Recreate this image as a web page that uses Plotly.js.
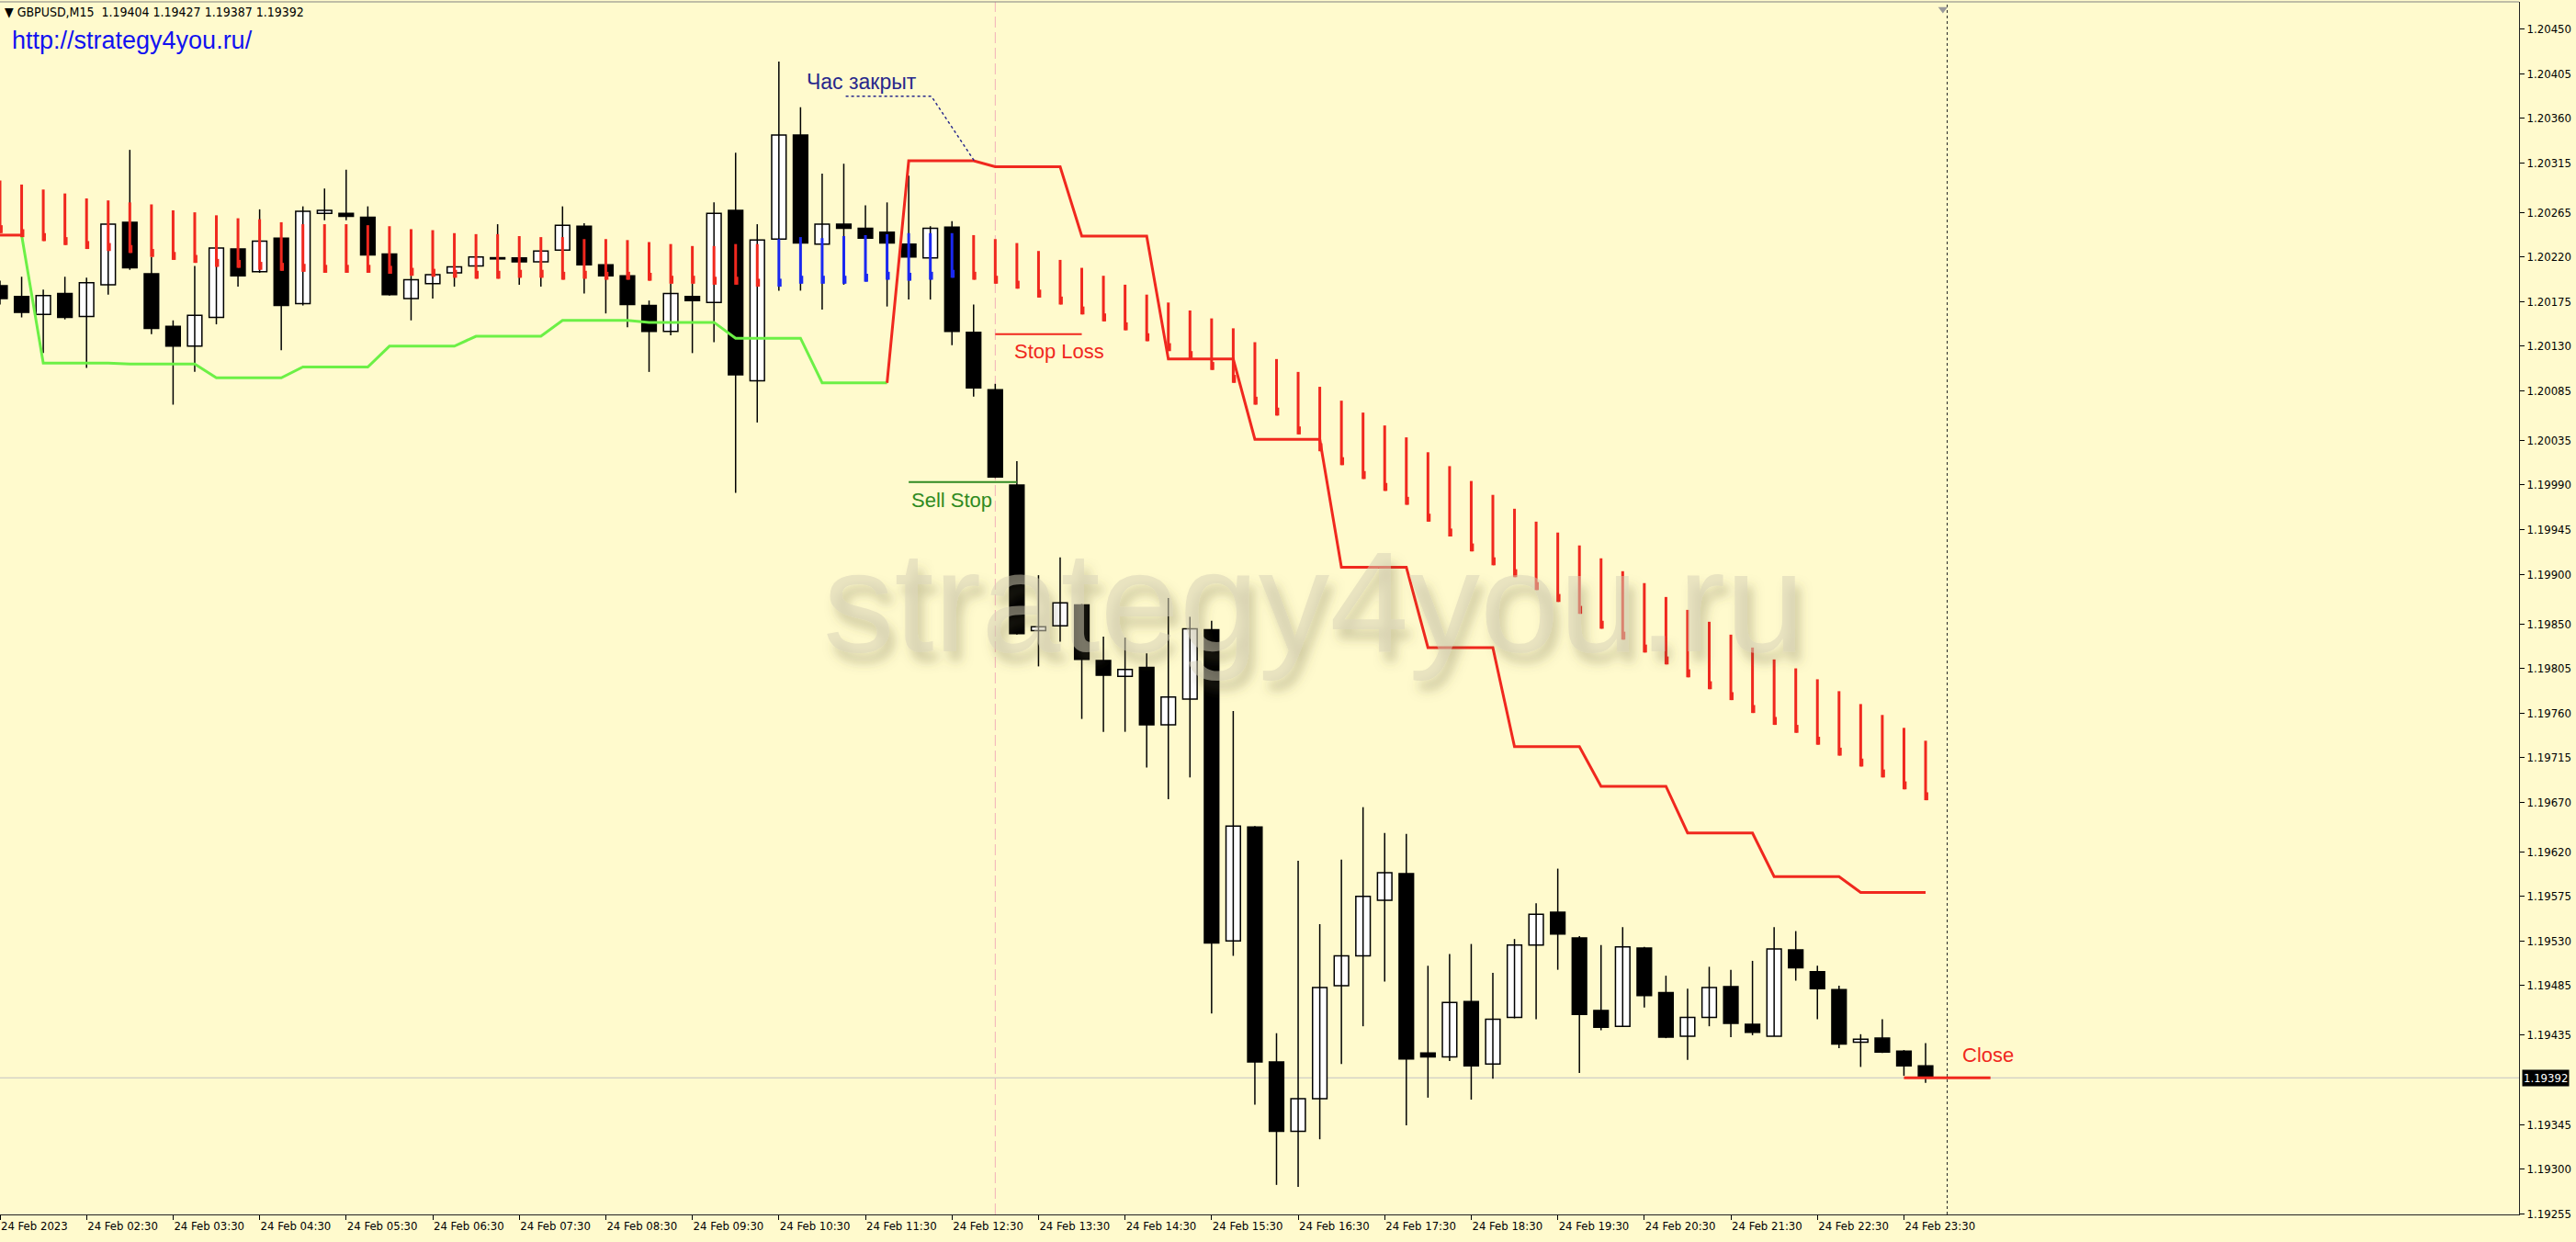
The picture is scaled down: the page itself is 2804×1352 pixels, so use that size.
<!DOCTYPE html>
<html><head><meta charset="utf-8">
<script src="https://cdn.plot.ly/plotly-3.0.1.min.js"></script>
<style>html,body{margin:0;padding:0;background:#fffacd;}#chart{width:2804px;height:1352px;}</style>
</head><body><div id="chart"></div>
<script>
const symbol = "GBPUSD", timeframe = "M15";
const barTime = ["01:30","01:45","02:00","02:15","02:30","02:45","03:00","03:15","03:30","03:45","04:00","04:15","04:30","04:45","05:00","05:15","05:30","05:45","06:00","06:15","06:30","06:45","07:00","07:15","07:30","07:45","08:00","08:15","08:30","08:45","09:00","09:15","09:30","09:45","10:00","10:15","10:30","10:45","11:00","11:15","11:30","11:45","12:00","12:15","12:30","12:45","13:00","13:15","13:30","13:45","14:00","14:15","14:30","14:45","15:00","15:15","15:30","15:45","16:00","16:15","16:30","16:45","17:00","17:15","17:30","17:45","18:00","18:15","18:30","18:45","19:00","19:15","19:30","19:45","20:00","20:15","20:30","20:45","21:00","21:15","21:30","21:45","22:00","22:15","22:30","22:45","23:00","23:15","23:30","23:45"];

const openP = [1.20191,1.20180,1.20162,1.20183,1.20160,1.20192,1.20255,1.20203,1.20150,1.20130,
1.20159,1.20228,1.20205,1.20239,1.20173,1.20264,1.20264,1.20260,1.20223,1.20178,
1.20193,1.20204,1.20211,1.20219,1.20219,1.20215,1.20227,1.20251,1.20212,1.20201,
1.20171,1.20145,1.20180,1.20174,1.20267,1.20095,1.20238,1.20343,1.20233,1.20253,
1.20249,1.20245,1.20233,1.20219,1.20250,1.20144,1.20086,1.19990,1.19843,1.19848,
1.19869,1.19813,1.19797,1.19806,1.19748,1.19774,1.19844,1.19530,1.19645,1.19408,
1.19338,1.19371,1.19485,1.19515,1.19571,1.19598,1.19417,1.19413,1.19469,1.19406,
1.19453,1.19526,1.19559,1.19533,1.19460,1.19444,1.19523,1.19478,1.19434,1.19453,
1.19484,1.19446,1.19434,1.19521,1.19499,1.19481,1.19428,1.19432,1.19419,1.19404];
const highP = [1.20196,1.20200,1.20187,1.20200,1.20199,1.20254,1.20328,1.20220,1.20156,1.20211,
1.20230,1.20229,1.20268,1.20240,1.20271,1.20289,1.20308,1.20271,1.20224,1.20201,
1.20203,1.20211,1.20221,1.20253,1.20220,1.20227,1.20271,1.20254,1.20213,1.20202,
1.20176,1.20193,1.20193,1.20275,1.20325,1.20253,1.20417,1.20371,1.20304,1.20314,
1.20272,1.20275,1.20302,1.20251,1.20256,1.20172,1.20092,1.20014,1.19899,1.19917,
1.19870,1.19837,1.19836,1.19820,1.19876,1.19857,1.19853,1.19762,1.19646,1.19437,
1.19611,1.19547,1.19612,1.19665,1.19639,1.19638,1.19505,1.19517,1.19527,1.19498,
1.19532,1.19568,1.19603,1.19535,1.19526,1.19544,1.19524,1.19495,1.19482,1.19504,
1.19501,1.19510,1.19544,1.19540,1.19505,1.19485,1.19436,1.19451,1.19420,1.19427];
const lowP = [1.20172,1.20159,1.20123,1.20157,1.20108,1.20182,1.20207,1.20142,1.20071,1.20104,
1.20152,1.20190,1.20204,1.20126,1.20171,1.20257,1.20257,1.20221,1.20181,1.20156,
1.20178,1.20190,1.20206,1.20201,1.20192,1.20190,1.20198,1.20183,1.20163,1.20149,
1.20104,1.20141,1.20123,1.20134,1.19982,1.20053,1.20186,1.20186,1.20167,1.20192,
1.20197,1.20170,1.20177,1.20177,1.20131,1.20079,1.19997,1.19839,1.19807,1.19832,
1.19754,1.19741,1.19741,1.19705,1.19673,1.19695,1.19457,1.19515,1.19365,1.19284,
1.19282,1.19330,1.19406,1.19444,1.19489,1.19344,1.19372,1.19409,1.19370,1.19391,
1.19452,1.19451,1.19501,1.19397,1.19440,1.19444,1.19463,1.19432,1.19410,1.19444,
1.19433,1.19435,1.19434,1.19490,1.19451,1.19422,1.19403,1.19417,1.19394,1.19387];
const closeP = [1.20178,1.20164,1.20181,1.20159,1.20194,1.20253,1.20209,1.20148,1.20130,1.20161,
1.20229,1.20201,1.20236,1.20171,1.20266,1.20267,1.20261,1.20222,1.20182,1.20197,
1.20202,1.20210,1.20220,1.20218,1.20215,1.20226,1.20252,1.20212,1.20201,1.20172,
1.20145,1.20183,1.20176,1.20264,1.20101,1.20237,1.20343,1.20234,1.20253,1.20249,
1.20239,1.20234,1.20220,1.20249,1.20145,1.20088,1.19998,1.19840,1.19847,1.19871,
1.19814,1.19798,1.19804,1.19748,1.19776,1.19845,1.19528,1.19646,1.19408,1.19338,
1.19371,1.19483,1.19515,1.19575,1.19599,1.19411,1.19413,1.19468,1.19404,1.19451,
1.19526,1.19557,1.19537,1.19456,1.19443,1.19524,1.19475,1.19433,1.19453,1.19483,
1.19447,1.19438,1.19522,1.19503,1.19482,1.19426,1.19431,1.19418,1.19404,1.19392];

// signal arrows indicator (top / bottom of each vertical stroke)
const arrowTop = [1.20297,1.20293,1.20288,1.20284,1.20279,1.20277,1.20275,1.20273,1.20267,1.20265,
1.20262,1.20259,1.20258,1.20255,1.20253,1.20253,1.20253,1.20252,1.20251,1.20248,
1.20247,1.20244,1.20243,1.20243,1.20241,1.20240,1.20240,1.20238,1.20238,1.20237,
1.20235,1.20233,1.20231,1.20231,1.20233,1.20233,1.20238,1.20240,1.20239,1.20241,
1.20242,1.20243,1.20244,1.20244,1.20244,1.20242,1.20238,1.20234,1.20226,1.20217,
1.20209,1.20201,1.20192,1.20182,1.20174,1.20166,1.20158,1.20148,1.20134,1.20117,
1.20104,1.20089,1.20075,1.20063,1.20050,1.20038,1.20023,1.20009,1.19994,1.19980,
1.19966,1.19953,1.19942,1.19929,1.19916,1.19903,1.19891,1.19877,1.19864,1.19852,
1.19839,1.19826,1.19814,1.19805,1.19794,1.19782,1.19769,1.19758,1.19745,1.19732];
const arrowBot = [1.20244,1.20240,1.20236,1.20232,1.20228,1.20226,1.20224,1.20220,1.20217,1.20214,
1.20210,1.20209,1.20207,1.20206,1.20205,1.20204,1.20204,1.20204,1.20203,1.20201,
1.20200,1.20199,1.20198,1.20198,1.20199,1.20199,1.20197,1.20198,1.20197,1.20197,
1.20196,1.20193,1.20193,1.20192,1.20192,1.20190,1.20190,1.20193,1.20193,1.20193,
1.20195,1.20197,1.20196,1.20197,1.20199,1.20197,1.20193,1.20188,1.20179,1.20172,
1.20162,1.20155,1.20146,1.20135,1.20125,1.20117,1.20106,1.20093,1.20071,1.20060,
1.20041,1.20024,1.20010,1.19996,1.19984,1.19970,1.19953,1.19938,1.19923,1.19909,
1.19897,1.19884,1.19872,1.19860,1.19845,1.19834,1.19821,1.19809,1.19796,1.19784,
1.19773,1.19760,1.19748,1.19740,1.19728,1.19717,1.19706,1.19695,1.19683,1.19672];
const blueArrowBars = [36,37,38,39,40,41,42,43,44];

// trailing stop line
const trailStop = [1.20242,1.20242,1.20113,1.20113,1.20113,1.20113,1.20112,1.20112,1.20112,1.20112,
1.20098,1.20098,1.20098,1.20098,1.20109,1.20109,1.20109,1.20109,1.20130,1.20130,
1.20130,1.20130,1.20140,1.20140,1.20140,1.20140,1.20156,1.20156,1.20156,1.20156,
1.20154,1.20154,1.20154,1.20154,1.20138,1.20138,1.20138,1.20138,1.20093,1.20093,
1.20093,1.20093,1.20317,1.20317,1.20317,1.20317,1.20311,1.20311,1.20311,1.20311,
1.20241,1.20241,1.20241,1.20241,1.20117,1.20117,1.20117,1.20117,1.20036,1.20036,
1.20036,1.20036,1.19907,1.19907,1.19907,1.19907,1.19826,1.19826,1.19826,1.19826,
1.19726,1.19726,1.19726,1.19726,1.19686,1.19686,1.19686,1.19686,1.19639,1.19639,
1.19639,1.19639,1.19595,1.19595,1.19595,1.19595,1.19579,1.19579,1.19579,1.19579];
const trailUpFirst = 2, trailUpLast = 41;

// chart objects (bar-index units, prices)
const stopLossX = [46, 50], stopLossPrice = 1.20142;
const sellStopX = [42, 47], sellStopPrice = 1.19993;
const closeX = [88, 92], closePrice = 1.19392;
const calloutX = [39.09, 43.05, 45.03], calloutY = [1.20382, 1.20382, 1.20317];
const hourLineBar = 46, endLineBar = 90;
const bidPrice = 1.19392;

const tickBars = [0,4,8,12,16,20,24,28,32,36,40,44,48,52,56,60,64,68,72,76,80,84,88];
const tickText = ["24 Feb 2023","24 Feb 02:30","24 Feb 03:30","24 Feb 04:30","24 Feb 05:30","24 Feb 06:30","24 Feb 07:30","24 Feb 08:30","24 Feb 09:30","24 Feb 10:30","24 Feb 11:30","24 Feb 12:30","24 Feb 13:30","24 Feb 14:30","24 Feb 15:30","24 Feb 16:30","24 Feb 17:30","24 Feb 18:30","24 Feb 19:30","24 Feb 20:30","24 Feb 21:30","24 Feb 22:30","24 Feb 23:30"];
const priceTicks = ["1.20450","1.20405","1.20360","1.20315","1.20265","1.20220","1.20175","1.20130","1.20085","1.20035","1.19990","1.19945","1.19900","1.19850","1.19805","1.19760","1.19715","1.19670","1.19620","1.19575","1.19530","1.19485","1.19435","1.19345","1.19300","1.19255"];

const watermarkText = "strategy4you.ru";
const urlText = "http://strategy4you.ru/";

// ---------- build ----------
const n = barTime.length;
const idx = barTime.map((_, i) => i);
const RED = '#f0281e', GREEN = '#6cf046', BLUE = '#1a28f0';
const AX = "DejaVu Sans Condensed";

const wx = [], wy = [];
idx.forEach(i => { wx.push(i, i, null); wy.push(highP[i], lowP[i], null); });
const bodyBase = idx.map(i => Math.min(openP[i], closeP[i]));
const bodyLen = idx.map(i => Math.max(Math.abs(closeP[i] - openP[i]), 0.000012));
const bodyCol = idx.map(i => closeP[i] > openP[i] ? '#ffffff' : '#000000');

const traces = [];
traces.push({type:'scatter', mode:'lines', x:wx, y:wy, line:{color:'#000', width:1.5}, hoverinfo:'skip'});
traces.push({type:'bar', x:idx, base:bodyBase, y:bodyLen, width:0.667,
  marker:{color:bodyCol, line:{color:'#000', width:1.5}}, hoverinfo:'skip'});

// trailing line segments coloured by side of bar they end on
const sideOf = i => (i >= trailUpFirst && i <= trailUpLast) ? 'up' : 'dn';
let segs = [], cur = null;
for (let i = 1; i < n; i++) {
  const s = sideOf(i);
  if (!cur || cur.s !== s) { cur = {s, x:[i-1], y:[trailStop[i-1]]}; segs.push(cur); }
  cur.x.push(i); cur.y.push(trailStop[i]);
}
segs.forEach(s => traces.push({type:'scatter', mode:'lines', x:s.x, y:s.y,
  line:{color: s.s === 'up' ? GREEN : RED, width:3}, hoverinfo:'skip'}));

// arrows (vertical stroke + small hook at the bottom)
const ar = {x:[], y:[]}, ab = {x:[], y:[]};
idx.forEach(i => {
  const t = blueArrowBars.includes(i) ? ab : ar;
  t.x.push(i, i, null); t.y.push(arrowTop[i], arrowBot[i], null);
  t.x.push(i + 0.06, i + 0.06, null); t.y.push(arrowBot[i], arrowBot[i] + 0.00008, null);
});
traces.push({type:'scatter', mode:'lines', x:ar.x, y:ar.y, line:{color:RED, width:3}, hoverinfo:'skip'});
traces.push({type:'scatter', mode:'lines', x:ab.x, y:ab.y, line:{color:BLUE, width:3}, hoverinfo:'skip'});

// objects
traces.push({type:'scatter', mode:'lines', x:stopLossX, y:[stopLossPrice, stopLossPrice], line:{color:RED, width:2}, hoverinfo:'skip'});
traces.push({type:'scatter', mode:'lines', x:sellStopX, y:[sellStopPrice, sellStopPrice], line:{color:'#2f8a22', width:2}, hoverinfo:'skip'});
traces.push({type:'scatter', mode:'lines', x:closeX, y:[closePrice, closePrice], line:{color:RED, width:3}, hoverinfo:'skip'});
traces.push({type:'scatter', mode:'lines', x:calloutX, y:calloutY, line:{color:'#28288c', width:1.5, dash:'3px,3px'}, hoverinfo:'skip'});
traces.push({type:'scatter', mode:'markers', x:[endLineBar - 0.2], y:[1.20470], cliponaxis:false,
  marker:{symbol:'triangle-down', size:9, color:'#9a9a9a'}, hoverinfo:'skip'});

const yr = [1.192542, 1.204773];
const layout = {
  width:2804, height:1352, margin:{l:0, r:62, t:2, b:30},
  paper_bgcolor:'#fffacd', plot_bgcolor:'#fffacd', showlegend:false, barmode:'overlay',
  hovermode:false,
  xaxis:{range:[0, 116.43], tickvals:tickBars, ticktext:tickText, ticks:'outside', ticklen:5,
    tickcolor:'#000', showline:true, linecolor:'#222', linewidth:1, showgrid:false, zeroline:false,
    ticklabelposition:'outside right', tickfont:{family:AX, size:13, color:'#000'}, fixedrange:true},
  yaxis:{range:yr, side:'right', tickvals:priceTicks.map(Number), ticktext:priceTicks, ticks:'outside',
    ticklen:5, tickcolor:'#000', showline:true, linecolor:'#222', linewidth:1, showgrid:false,
    zeroline:false, tickfont:{family:AX, size:13, color:'#000'}, fixedrange:true},
  shapes:[
    {type:'line', xref:'x', yref:'y', x0:0, x1:116.43, y0:bidPrice, y1:bidPrice, line:{color:'#c4c4c4', width:1}, layer:'below'},
    {type:'line', xref:'x', yref:'paper', x0:hourLineBar, x1:hourLineBar, y0:0, y1:1, line:{color:'#f2b0b8', width:1, dash:'12px,5px'}, layer:'below'},
    {type:'line', xref:'x', yref:'paper', x0:endLineBar, x1:endLineBar, y0:0, y1:1, line:{color:'#222', width:1, dash:'3px,3px'}, layer:'below'},
    {type:'line', xref:'paper', yref:'paper', x0:0, x1:1, y0:1, y1:1, line:{color:'#808080', width:1}}
  ],
  annotations:[
    {xref:'paper', yref:'paper', x:0, y:0.9919, xanchor:'left', yanchor:'middle', xshift:3, showarrow:false,
     text:'▼ ' + symbol + ',' + timeframe + '\u00a0\u00a0' + [openP[n-1], highP[n-1], lowP[n-1], closeP[n-1]].map(v => v.toFixed(5)).join(' '),
     font:{family:AX, size:14, color:'#000'}},
    {xref:'paper', yref:'paper', x:0, y:0.9682, xanchor:'left', yanchor:'middle', xshift:11, showarrow:false,
     text:urlText, font:{family:'Liberation Sans', size:27, color:'#1212f0'}},
    {xref:'paper', yref:'paper', x:0.5215, y:0.505, xanchor:'center', yanchor:'middle', showarrow:false,
     text:watermarkText, font:{family:'Liberation Sans', size:155, color:'rgba(214,208,182,0.5)'}},
    {xref:'x', yref:'y', x:46.8, y:1.20125, xanchor:'left', yanchor:'middle', showarrow:false,
     text:'Stop Loss', font:{family:'Liberation Sans', size:22, color:RED}},
    {xref:'x', yref:'y', x:42.05, y:1.19975, xanchor:'left', yanchor:'middle', showarrow:false,
     text:'Sell Stop', font:{family:'Liberation Sans', size:22, color:'#2f8a22'}},
    {xref:'x', yref:'y', x:90.6, y:1.19415, xanchor:'left', yanchor:'middle', showarrow:false,
     text:'Close', font:{family:'Liberation Sans', size:22, color:RED}},
    {xref:'x', yref:'y', x:37.2, y:1.20397, xanchor:'left', yanchor:'middle', showarrow:false,
     text:'Час закрыт', font:{family:'Liberation Sans', size:23, color:'#28288c'}},
    {xref:'paper', yref:'y', x:1, y:bidPrice, xanchor:'left', yanchor:'middle', xshift:3, showarrow:false,
     text:bidPrice.toFixed(5), bgcolor:'#000', borderpad:1, font:{family:AX, size:13, color:'#fff'}}
  ]
};

Plotly.newPlot('chart', traces, layout, {staticPlot:true, displayModeBar:false}).then(gd => {
  const NS = 'http://www.w3.org/2000/svg';
  const svg = gd.querySelector('svg.main-svg');
  let defs = svg.querySelector('defs');
  if (!defs) { defs = document.createElementNS(NS, 'defs'); svg.insertBefore(defs, svg.firstChild); }
  const f = document.createElementNS(NS, 'filter');
  f.setAttribute('id', 'wmShadow');
  f.setAttribute('x', '-10%'); f.setAttribute('y', '-40%');
  f.setAttribute('width', '130%'); f.setAttribute('height', '190%');
  f.innerHTML = '<feGaussianBlur in="SourceAlpha" stdDeviation="6" result="b"/>' +
    '<feOffset in="b" dx="6" dy="11" result="o"/>' +
    '<feFlood flood-color="#5e5836" flood-opacity="0.55"/>' +
    '<feComposite in2="o" operator="in" result="s"/>' +
    '<feMerge><feMergeNode in="s"/><feMergeNode in="SourceGraphic"/></feMerge>';
  defs.appendChild(f);
  gd.querySelectorAll('.annotation-text').forEach(t => {
    if (t.textContent === watermarkText) t.setAttribute('filter', 'url(#wmShadow)');
  });
});
</script>
</body></html>
